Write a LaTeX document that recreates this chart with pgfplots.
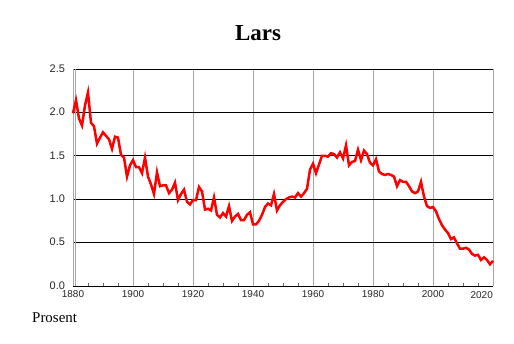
\documentclass[border=0pt]{standalone}
\usepackage{fontspec}
\setmainfont{Liberation Serif}
\newfontfamily\sansf{Liberation Sans}
\usepackage{pgfplots}
\pgfplotsset{compat=1.18}
\begin{document}
\begin{tikzpicture}[x=1bp,y=1bp]
\path[use as bounding box] (0,0) rectangle (514,343);
\begin{axis}[
  at={(73bp,57bp)}, anchor=south west,
  scale only axis, width=420bp, height=217bp,
  xmin=1880, xmax=2020, ymin=0, ymax=2.5,
  xtick={1880,1900,...,2020},
  xticklabels={1880,1900,1920,1940,1960,1980,2000,{}},
  extra x ticks={1880.75}, extra x tick labels={},
  extra x tick style={grid=major, major tick length=0pt},
  minor x tick num=3,
  ytick={0,0.5,...,2.5},
  /pgf/number format/assume math mode=true,
  tick label style={font=\sansf\fontsize{10}{11}\selectfont, text=black!85},
  xticklabel style={yshift=-1.5bp},
  yticklabel style={font=\sansf\fontsize{11}{12}\selectfont, xshift=-4.5bp, yshift=0.5bp, /pgf/number format/.cd, fixed, fixed zerofill, precision=1},
  axis x line*=bottom, axis y line*=left,
  x axis line style={black, -}, y axis line style={black!35, -},
  xmajorgrids, ymajorgrids,
  x grid style={black!35, line width=0.8bp},
  y grid style={black, line width=0.8bp},
  major tick length=0pt, minor tick length=3bp,
  tick align=inside, minor tick style={black!60},
  ytick style={draw=none},
  clip=false,
]
\addplot[red, line width=2.5bp] coordinates {
(1880,1.99)(1881,2.14)(1882,1.93)(1883,1.85)(1884,2.08)(1885,2.23)(1886,1.88)(1887,1.84)(1888,1.64)(1889,1.71)
(1890,1.77)(1891,1.73)(1892,1.69)(1893,1.58)(1894,1.72)(1895,1.71)(1896,1.51)(1897,1.48)(1898,1.26)(1899,1.39)
(1900,1.45)(1901,1.37)(1902,1.37)(1903,1.30)(1904,1.48)(1905,1.26)(1906,1.17)(1907,1.06)(1908,1.31)(1909,1.15)
(1910,1.16)(1911,1.16)(1912,1.07)(1913,1.11)(1914,1.19)(1915,0.99)(1916,1.06)(1917,1.11)(1918,0.97)(1919,0.94)
(1920,0.99)(1921,0.99)(1922,1.14)(1923,1.09)(1924,0.88)(1925,0.89)(1926,0.87)(1927,1.02)(1928,0.82)(1929,0.79)
(1930,0.84)(1931,0.80)(1932,0.92)(1933,0.75)(1934,0.80)(1935,0.83)(1936,0.76)(1937,0.76)(1938,0.82)(1939,0.85)
(1940,0.71)(1941,0.71)(1942,0.75)(1943,0.82)(1944,0.91)(1945,0.95)(1946,0.93)(1947,1.06)(1948,0.87)(1949,0.93)
(1950,0.97)(1951,1.00)(1952,1.02)(1953,1.03)(1954,1.02)(1955,1.07)(1956,1.03)(1957,1.07)(1958,1.12)(1959,1.34)
(1960,1.41)(1961,1.30)(1962,1.40)(1963,1.50)(1964,1.50)(1965,1.49)(1966,1.53)(1967,1.52)(1968,1.48)(1969,1.54)
(1970,1.47)(1971,1.62)(1972,1.39)(1973,1.43)(1974,1.44)(1975,1.57)(1976,1.45)(1977,1.56)(1978,1.52)(1979,1.42)
(1980,1.39)(1981,1.46)(1982,1.32)(1983,1.29)(1984,1.28)(1985,1.29)(1986,1.28)(1987,1.26)(1988,1.15)(1989,1.22)
(1990,1.20)(1991,1.20)(1992,1.15)(1993,1.09)(1994,1.07)(1995,1.09)(1996,1.20)(1997,1.03)(1998,0.92)(1999,0.90)
(2000,0.91)(2001,0.86)(2002,0.77)(2003,0.70)(2004,0.65)(2005,0.61)(2006,0.54)(2007,0.56)(2008,0.49)(2009,0.43)
(2010,0.43)(2011,0.44)(2012,0.42)(2013,0.37)(2014,0.35)(2015,0.36)(2016,0.30)(2017,0.33)(2018,0.30)(2019,0.25)
(2020,0.29)
};
\end{axis}
\node[anchor=north east, inner sep=0pt, font=\sansf\fontsize{10}{11}\selectfont, text=black!85] at (493,52) {2020};
\node[font=\bfseries\fontsize{23}{26}\selectfont] at (258,310) {Lars};
\node[anchor=base west, inner sep=0pt, font=\fontsize{15}{17}\selectfont] at (32,21) {Prosent};
\end{tikzpicture}
\end{document}
